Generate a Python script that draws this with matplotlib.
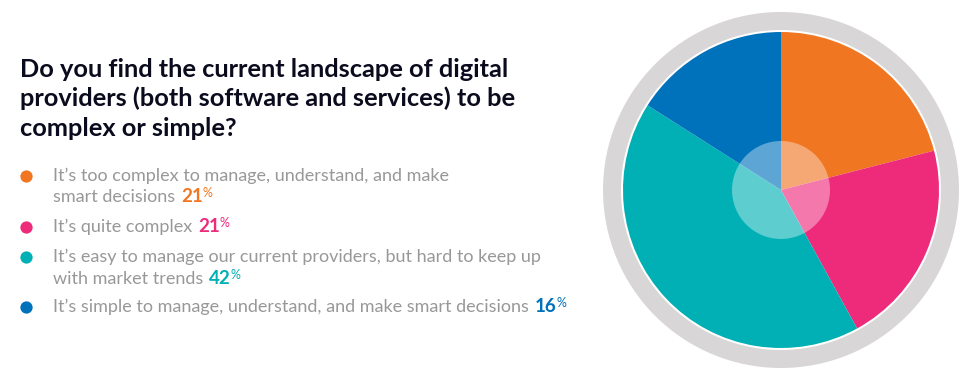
import matplotlib
matplotlib.use("Agg")
import matplotlib.pyplot as plt
from matplotlib.patches import Circle

# survey answers (clockwise from 12 o'clock)
title_lines = ["Do you find the current landscape of digital",
               "providers (both software and services) to be",
               "complex or simple?"]
answers = ["It\u2019s too complex to manage, understand, and make\nsmart decisions",
           "It\u2019s quite complex",
           "It\u2019s easy to manage our current providers, but hard to keep up\nwith market trends",
           "It\u2019s simple to manage, understand, and make smart decisions"]
shares = [21, 21, 42, 16]
colors = ["#F07622", "#EE2A7B", "#00B0B4", "#0072BC"]

W, H = 970, 380
fig = plt.figure(figsize=(W / 100, H / 100), dpi=100)
fig.patch.set_facecolor("white")

# full-figure axes in pixel coordinates (y grows downward)
ax = fig.add_axes([0, 0, 1, 1])
ax.set_xlim(0, W)
ax.set_ylim(H, 0)
ax.axis("off")

font = "Lato"
for i, line in enumerate(title_lines):
    ax.text(20, 77 + i * 29.5, line, fontsize=18.3, fontweight="bold",
            family=font, color="#0B0B1E", va="baseline", ha="left")

fig.canvas.draw()
renderer = fig.canvas.get_renderer()

text_x = 53
baselines = [[181, 202], [232], [262, 284], [312]]
for ans, val, col, bl in zip(answers, shares, colors, baselines):
    lines = ans.split("\n")
    ax.scatter([26], [bl[0] - 5.5], s=78, color=col, zorder=3, linewidths=0)
    last = None
    for line, y in zip(lines, bl):
        last = ax.text(text_x, y, line, fontsize=13.0, family=font,
                       color="#98989A", va="baseline", ha="left")
    x_end = last.get_window_extent(renderer).x1
    num = ax.text(x_end + 6, bl[-1], str(val), fontsize=13.5, family=font,
                  fontweight="bold", color=col, va="baseline", ha="left")
    x_num = num.get_window_extent(renderer).x1
    ax.text(x_num, bl[-1] - 5, "%", fontsize=9, family=font,
            color=col, va="baseline", ha="left")

# pie on its own square axes, 1 unit = 180 px
cx, cy, half = 781, 190, 180
pax = fig.add_axes([(cx - half) / W, (H - cy - half) / H, 2 * half / W, 2 * half / H])
pax.add_patch(Circle((0, 0), 178 / half, facecolor="#D8D6D7", linewidth=0, zorder=0))
pax.add_patch(Circle((0, 0), 160 / half, facecolor="white", linewidth=0, zorder=0.5))
pax.pie(shares, colors=colors, startangle=90, counterclock=False,
        radius=158 / half, wedgeprops=dict(linewidth=0))
pax.add_patch(Circle((0, 0), 49 / half, facecolor="white", alpha=0.37,
                     linewidth=0, zorder=5))
pax.set_xlim(-1, 1)
pax.set_ylim(-1, 1)
pax.set_aspect("equal")
pax.axis("off")

fig.savefig("out.png", dpi=100)
